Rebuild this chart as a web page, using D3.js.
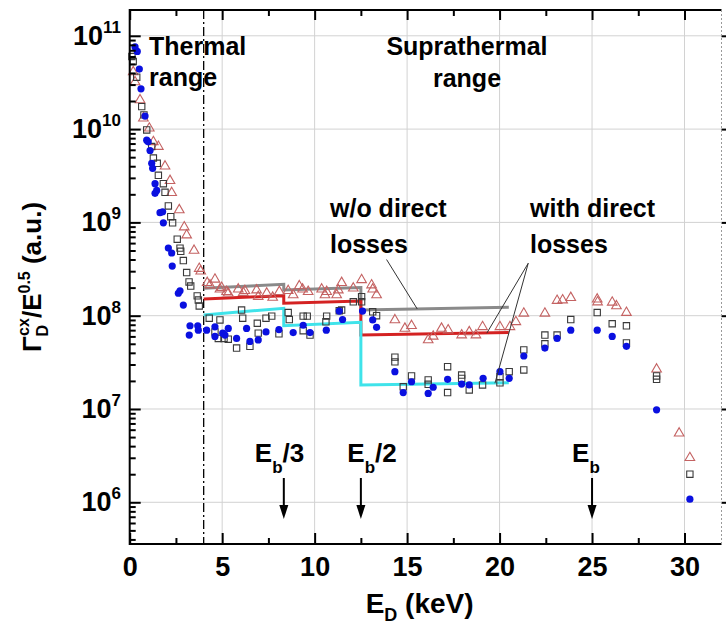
<!DOCTYPE html>
<html><head><meta charset="utf-8">
<script src="https://cdn.jsdelivr.net/npm/d3@7"></script>
<style>
body{margin:0;background:#fff}
text{font-family:"Liberation Sans",Arial,sans-serif;font-weight:bold;fill:#000}
</style>
</head><body>
<svg id="c" width="726" height="627"></svg>
<script>
// ---- data (E in keV, flux in a.u.) ----
const blueCircles = [
[0.29,7.6e10],[0.41,6.8e10],[0.52,4.4e10],[0.61,2.7e10],[0.83,1.38e10],[0.92,7.6e9],[1.0,7.3e9],[1.10,5.9e9],[1.19,4.3e9],[1.24,3.8e9],[1.37,2.6e9],[1.46,2.2e9],[1.37,2.05e9],[1.64,1.27e9],[1.78,1.3e9],[1.82,9.9e8],[2.09,5.3e8],[2.27,4.7e8],[2.30,3.4e8],[2.63,1.74e8],[2.72,1.85e8],[2.90,1.3e8],[3.26,7.8e7],[3.22,6.2e7],[3.68,7.8e7],[3.71,7.0e7],
[4.16,7.0e7],[4.61,7.6e7],[4.61,6.0e7],[5.03,6.5e7],[5.15,6.2e7],[5.33,7.3e7],[5.78,5.7e7],[6.32,7.3e7],[6.50,5.3e7],[6.95,5.5e7],[7.37,6.7e7],[8.07,7.1e7],[8.84,6.6e7],[9.38,7.9e7],[9.75,6.6e7],[10.63,7.0e7],[11.33,1.12e8],[11.51,9.1e7],[12.59,1.12e8],[13.14,9.0e7],[13.35,7.5e7],
[14.34,2.51e7],[14.79,1.5e7],[15.24,1.96e7],[16.14,1.47e7],[16.41,1.71e7],[17.19,2.08e7],[17.95,1.85e7],[18.36,1.81e7],[19.11,2.13e7],[20.02,2.51e7],[20.52,2.13e7],
[21.31,3.7e7],[22.45,4.5e7],[23.11,5.7e7],[23.85,7.0e7],[25.28,7.0e7],[26.09,6.0e7],[26.86,4.7e7],[28.49,9.8e6],[30.29,1.08e6]];

const openSquares = [
[0.12,6.0e10],[0.19,5.3e10],[0.38,3.6e10],[0.65,1.74e10],[0.77,1.42e10],[0.92,9.8e9],[1.19,6.5e9],[1.28,4.9e9],[1.49,4.3e9],[1.55,3.2e9],[1.82,2.6e9],[1.91,2.1e9],[2.09,1.5e9],[2.22,1.15e9],[2.32,9.9e8],[2.57,6.6e8],[2.72,5.3e8],[2.76,4.9e8],[2.90,3.9e8],[3.08,2.9e8],[3.21,2.3e8],[3.30,2.08e8],[3.65,1.63e8],[3.71,1.47e8],[3.76,1.27e8],
[4.30,9.4e7],[4.88,9.0e7],[4.61,6.7e7],[4.79,5.7e7],[5.1,5.7e7],[5.33,5.6e7],[5.78,4.5e7],[6.05,1.15e8],[6.11,9.4e7],[6.50,4.7e7],[6.90,8.3e7],[6.95,6.5e7],[7.37,9.4e7],[7.68,9.9e7],[8.07,6.4e7],[8.57,1.08e8],[8.63,9.1e7],[9.38,9.9e7],[9.60,9.9e7],[9.38,6.9e7],[9.75,6.2e7],[10.65,9.9e7],[10.61,8.6e7],[11.33,1.13e8],[11.46,1.15e8],[12.09,1.41e8],[12.54,1.6e8],[12.54,1.41e8],[13.14,1.1e8],[13.35,1.0e8],
[14.34,3.6e7],[14.34,3.2e7],[14.79,1.73e7],[15.24,2.26e7],[16.14,2.05e7],[16.14,1.84e7],[17.19,2.84e7],[17.19,1.5e7],[17.95,2.31e7],[17.95,2.13e7],[18.36,1.6e7],[19.08,1.81e7],[20.02,2.22e7],[20.02,1.91e7],[20.52,2.51e7],
[21.31,4.3e7],[21.31,2.62e7],[22.45,6.2e7],[22.45,5.0e7],[23.11,6.2e7],[23.85,9.1e7],[25.28,1.08e8],[26.09,8.2e7],[26.86,7.8e7],[26.86,5.1e7],[28.49,2.26e7],[28.49,2.08e7],[30.29,2.0e6]];

const openTriangles = [
[0.19,4.1e10],[0.29,3.2e10],[0.56,2.05e10],[0.74,1.31e10],[1.06,1.02e10],[1.28,7.3e9],[1.55,6.5e9],[1.91,4.0e9],[2.18,2.8e9],[2.27,2.08e9],[2.68,1.36e9],[2.95,8.9e8],[3.08,7.3e8],[3.48,5.0e8],[3.76,3.2e8],[3.84,3.0e8],
[4.19,2.26e8],[4.61,2.45e8],[4.34,2.13e8],[4.88,1.92e8],[4.97,2.0e8],[5.24,1.81e8],[5.33,1.74e8],[5.87,1.92e8],[6.14,1.77e8],[6.23,1.85e8],[6.86,1.88e8],[6.95,1.6e8],[7.41,1.74e8],[7.73,1.57e8],[8.09,1.81e8],[8.57,1.85e8],[8.84,1.67e8],[9.17,2.08e8],[9.35,1.92e8],[9.65,1.81e8],[10.38,1.92e8],[10.65,1.81e8],[10.56,1.67e8],[11.19,1.67e8],[11.28,1.88e8],[11.46,2.26e8],[12.09,1.97e8],[12.54,2.42e8],[13.08,2.13e8],[13.14,1.92e8],[13.35,1.67e8],
[14.34,9.0e7],[14.88,7.3e7],[15.24,7.8e7],[16.14,5.5e7],[16.41,6.0e7],[16.86,7.3e7],[17.22,7.0e7],[17.95,6.2e7],[18.36,6.7e7],[18.72,6.2e7],[19.08,7.6e7],[20.02,7.6e7],[20.56,7.6e7],[20.88,8.6e7],
[21.31,1.06e8],[22.45,1.06e8],[23.11,1.45e8],[23.41,1.47e8],[23.85,1.56e8],[25.28,1.5e8],[25.3,1.4e8],[26.09,1.39e8],[26.32,1.27e8],[26.86,1.08e8],[28.49,2.67e7],[29.71,5.5e6],[30.29,3.0e6]];

// model curves
const modelNoLoss   = [[4,1.97e8],[8.33,2.17e8],[8.33,1.89e8],[12.5,2.0e8],[12.5,1.15e8],[20.5,1.23e8]];
const modelLossRed  = [[4,1.51e8],[8.33,1.64e8],[8.33,1.36e8],[12.5,1.44e8],[12.5,6.2e7],[20.5,6.6e7]];
const modelLossCyan = [[4,1.02e8],[8.33,1.2e8],[8.33,7.8e7],[12.5,8.5e7],[12.5,1.81e7],[20.5,1.91e7]];

// axes
const xMajor = [0,5,10,15,20,25,30];
const xMinor = [2.5,7.5,12.5,17.5,22.5,27.5];
const yDecades = [1e6,1e7,1e8,1e9,1e10,1e11];
const yExponents = ["6","7","8","9","10","11"];
const thermalEdge = 4;
const beamMarks = [{E:25/3,main:"E",sub:"b",tail:"/3",dx:-29},{E:12.5,main:"E",sub:"b",tail:"/2",dx:-13.5},{E:25,main:"E",sub:"b",tail:"",dx:-20}];

// ---- layout ----
const L=129.7, R=721.5, T=10, B=544;
const svg = d3.select("#c");
const x = d3.scaleLinear().domain([0,32]).range([L,R]);
const y = d3.scaleLog().domain([Math.pow(10,5.553), Math.pow(10,11.2765)]).range([B,T]);

// grid
svg.append("g").selectAll("line").data(xMajor.filter(d=>d>0)).join("line")
  .attr("x1",d=>x(d)).attr("x2",d=>x(d)).attr("y1",T).attr("y2",B)
  .attr("stroke","#d2d2d2").attr("stroke-width",1);
svg.append("g").selectAll("line").data(yDecades).join("line")
  .attr("x1",L).attr("x2",R).attr("y1",d=>y(d)).attr("y2",d=>y(d))
  .attr("stroke","#d2d2d2").attr("stroke-width",1);

// thermal boundary
svg.append("line").attr("x1",x(thermalEdge)).attr("x2",x(thermalEdge)).attr("y1",T).attr("y2",B)
  .attr("stroke","#000").attr("stroke-width",1.3).attr("stroke-dasharray","9,3,2,3");

// model lines
const line = d3.line().x(d=>x(d[0])).y(d=>y(d[1]));
[[modelNoLoss,"#8a8a8a"],[modelLossRed,"#d42222"],[modelLossCyan,"#3fe3ea"]].forEach(([d,c])=>{
  svg.append("path").datum(d).attr("d",line).attr("fill","none").attr("stroke",c).attr("stroke-width",3);
});

// points
const sq = d3.symbol().type(d3.symbolSquare).size(40)();
const tri = d3.symbol().type(d3.symbolTriangle).size(40)();
svg.append("g").selectAll("path").data(openTriangles).join("path")
  .attr("d",tri).attr("transform",d=>`translate(${x(d[0])},${y(d[1])})`)
  .attr("fill","none").attr("stroke","#c46262").attr("stroke-width",1.1);
svg.append("g").selectAll("path").data(openSquares).join("path")
  .attr("d",sq).attr("transform",d=>`translate(${x(d[0])},${y(d[1])})`)
  .attr("fill","none").attr("stroke","#3a3a3a").attr("stroke-width",1.1);
svg.append("g").selectAll("circle").data(blueCircles).join("circle")
  .attr("cx",d=>x(d[0])).attr("cy",d=>y(d[1])).attr("r",3.6).attr("fill","#0a10e0");

// axes
const font = "Liberation Sans, Arial, sans-serif";
function styleAxis(g){ g.select(".domain").remove(); g.selectAll(".tick line").attr("stroke","#000").attr("stroke-width",2); }
svg.append("g").attr("transform",`translate(0,${B})`)
  .call(d3.axisBottom(x).tickValues(xMajor).tickSize(-11).tickPadding(13).tickFormat(d3.format("d")))
  .call(styleAxis)
  .call(g=>g.selectAll("text").attr("font-size",27).attr("font-family",font).attr("font-weight","bold").attr("fill","#000"));
svg.append("g").attr("transform",`translate(0,${B})`)
  .call(d3.axisBottom(x).tickValues(xMinor).tickSize(-6).tickFormat(""))
  .call(styleAxis);
svg.append("g").attr("transform",`translate(0,${T})`)
  .call(d3.axisTop(x).tickValues(xMajor).tickSize(-10).tickFormat(""))
  .call(styleAxis);
svg.append("g").attr("transform",`translate(0,${T})`)
  .call(d3.axisTop(x).tickValues(xMinor).tickSize(-6).tickFormat(""))
  .call(styleAxis);
const yMinor = [];
for (let e=5;e<=11;e++) for (let m=2;m<=9;m++){ const v=m*Math.pow(10,e); if (v>y.domain()[0] && v<y.domain()[1]) yMinor.push(v); }
svg.append("g").attr("transform",`translate(${L},0)`)
  .call(d3.axisLeft(y).tickValues(yDecades).tickSize(-11).tickFormat(""))
  .call(styleAxis);
svg.append("g").attr("transform",`translate(${L},0)`)
  .call(d3.axisLeft(y).tickValues(yMinor).tickSize(-6).tickFormat(""))
  .call(styleAxis);
svg.append("g").attr("transform",`translate(${R},0)`)
  .call(d3.axisRight(y).tickValues(yDecades).tickSize(5).tickFormat(""))
  .call(styleAxis);

// frame
svg.append("line").attr("x1",L).attr("x2",L).attr("y1",T-1).attr("y2",B+1).attr("stroke","#000").attr("stroke-width",2);
svg.append("line").attr("x1",L).attr("x2",R).attr("y1",B).attr("y2",B).attr("stroke","#000").attr("stroke-width",2);
svg.append("line").attr("x1",L).attr("x2",R).attr("y1",T).attr("y2",T).attr("stroke","#000").attr("stroke-width",2);
svg.append("line").attr("x1",R).attr("x2",R).attr("y1",T).attr("y2",B).attr("stroke","#9a9a9a").attr("stroke-width",1).attr("stroke-dasharray","2,2");

// y tick labels
const yl = svg.append("g").selectAll("text").data(yDecades).join("text")
  .attr("x",121).attr("y",d=>y(d)+9).attr("text-anchor","end").attr("font-size",27);
yl.append("tspan").text("10");
yl.append("tspan").attr("font-size",17).attr("dy",-12).text((d,i)=>yExponents[i]);

// axis titles
const xt = svg.append("text").attr("x",(L+R)/2-6).attr("y",613).attr("text-anchor","middle").attr("font-size",28);
xt.append("tspan").text("E");
xt.append("tspan").attr("font-size",18).attr("dy",8).text("D");
xt.append("tspan").attr("dy",-8).text(" (keV)");

const yt = svg.append("text").attr("transform",`translate(41,${(T+B)/2}) rotate(-90)`).attr("text-anchor","middle").attr("font-size",26);
yt.append("tspan").text("Γ");
yt.append("tspan").attr("font-size",16).attr("dy",7).text("D");
yt.append("tspan").attr("font-size",16).attr("dx",-11).attr("dy",-19).text("cx");
yt.append("tspan").attr("dy",12).text("/E");
yt.append("tspan").attr("font-size",16).attr("dy",-11).text("0.5");
yt.append("tspan").attr("dy",11).text(" (a.u.)");

// region labels
function label(txt,xx,yy,anchor){ svg.append("text").attr("x",xx).attr("y",yy).attr("text-anchor",anchor||"start").attr("font-size",25).text(txt); }
label("Thermal",149,55); label("range",149,86);
label("Suprathermal",467,55,"middle"); label("range",467,87,"middle");
label("w/o direct",330,217); label("losses",330,253);
label("with direct",530,217); label("losses",530,253);

// pointer lines
const pointers = [
  [[13.89,4.0e8],[15.55,1.18e8]],
  [[21.55,3.65e8],[19.31,6.5e7]],
  [[21.55,3.65e8],[19.75,1.89e7]]
];
pointers.forEach(p=>svg.append("path").datum(p).attr("d",line).attr("stroke","#333").attr("stroke-width",1).attr("fill","none"));

// beam energy arrows
beamMarks.forEach(b=>{
  const xx = x(b.E);
  svg.append("line").attr("x1",xx).attr("x2",xx).attr("y1",478).attr("y2",508).attr("stroke","#000").attr("stroke-width",2);
  svg.append("path").attr("d",`M${xx-4.5},${505}L${xx+4.5},${505}L${xx},${519}Z`).attr("fill","#000");
  const t = svg.append("text").attr("x",xx+b.dx).attr("y",462).attr("font-size",26);
  t.append("tspan").text(b.main);
  t.append("tspan").attr("font-size",17).attr("dy",11).text(b.sub);
  if (b.tail) t.append("tspan").attr("dy",-11).text(b.tail);
});
</script>
</body></html>
